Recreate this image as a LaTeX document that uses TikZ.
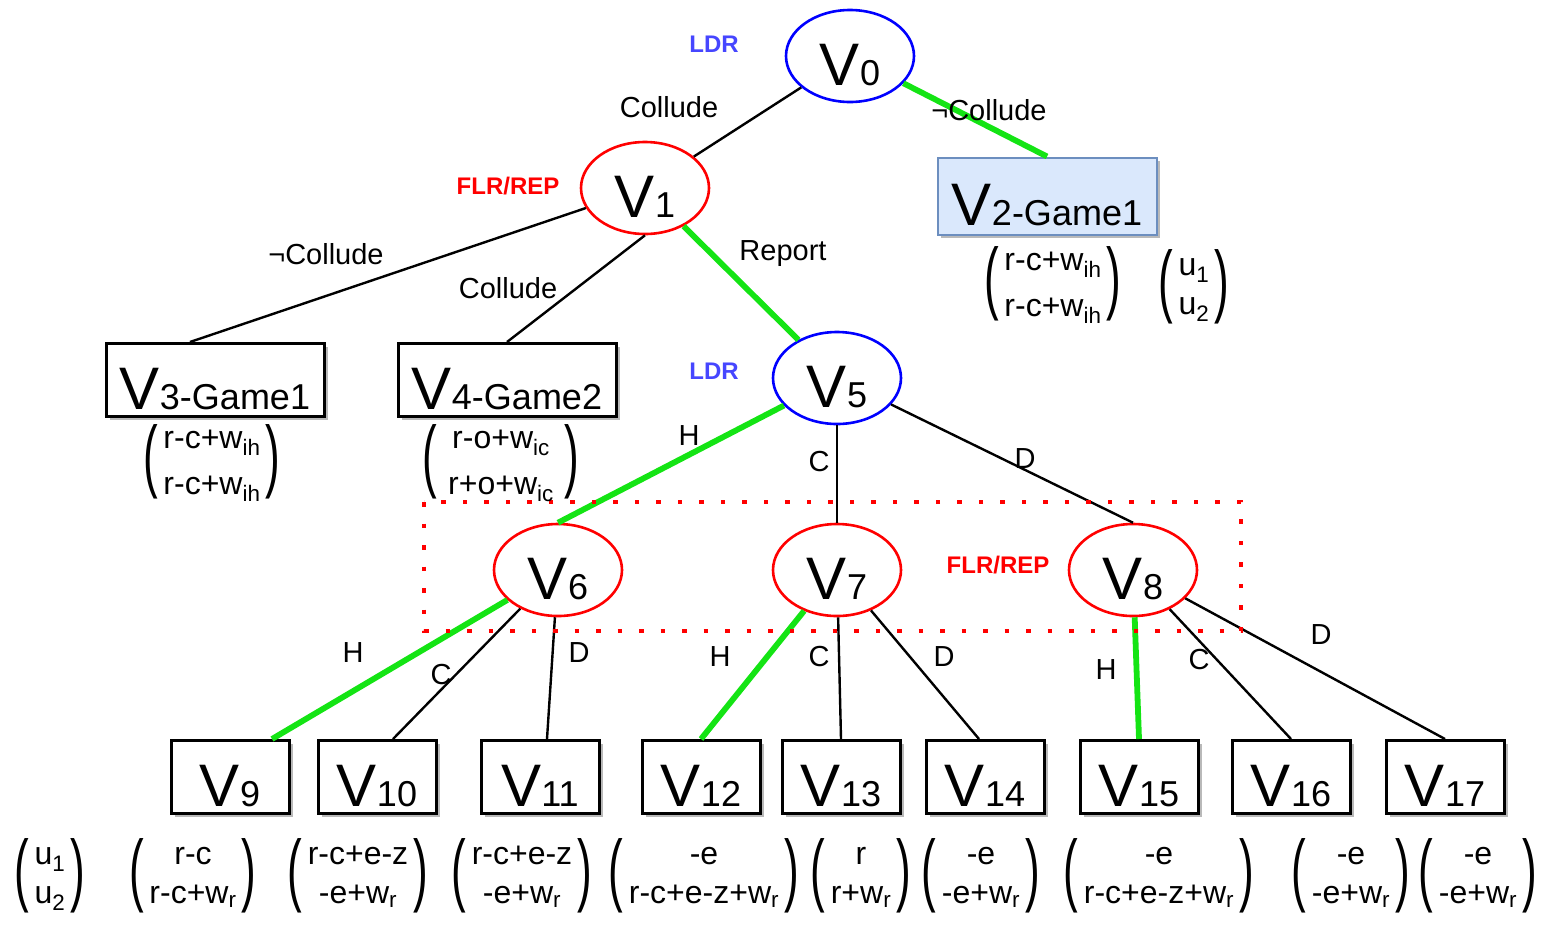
\documentclass[tikz,border=0pt]{standalone}
\usepackage{graphicx}
\usepackage{fontspec}
\setmainfont{Liberation Sans}
\usetikzlibrary{shapes.geometric,shadows}

\definecolor{ldrblue}{RGB}{0,0,255}
\definecolor{ldrtext}{RGB}{70,70,255}
\definecolor{flrred}{RGB}{255,0,0}
\definecolor{pathgreen}{RGB}{20,228,20}
\definecolor{gamefill}{RGB}{218,232,252}
\definecolor{gameline}{RGB}{108,142,191}

\newcommand{\vn}[1]{{\fontsize{60}{60}\selectfont V}{\fontsize{36}{36}\selectfont #1}}
\newcommand{\bigpar}[1]{\scalebox{0.55}[1]{\fontsize{80}{80}\selectfont #1}}
\newcommand{\pay}[2]{$\vcenter{\hbox{\bigpar(}}\vcenter{\hbox{\begin{tabular}{@{\,}c@{\,}}#1\\#2\end{tabular}}}\vcenter{\hbox{\bigpar)}}$}
\newcommand{\wsub}[1]{w\textsubscript{#1}}

\tikzset{
  vnode/.style={inner sep=0, text height=58pt, text depth=0pt},
  ldrnode/.style={vnode, ellipse, draw=ldrblue, line width=2.6pt, minimum width=128pt, minimum height=92pt},
  flrnode/.style={ldrnode, draw=flrred},
  leafbox/.style={vnode, draw, line width=3pt, fill=white, minimum width=118pt, minimum height=73pt,
    drop shadow={shadow xshift=3.5pt, shadow yshift=-3.5pt, opacity=0.5, fill=black!55}},
  gamebox/.style={leafbox, minimum width=218pt},
  plain/.style={line width=2.4pt},
  chosen/.style={line width=5.8pt, draw=pathgreen},
  lbl/.style={font=\fontsize{29}{29}\selectfont},
  role/.style={font=\bfseries\fontsize{24}{24}\selectfont},
  payoff/.style={inner sep=0, font=\fontsize{32}{39}\selectfont},
  payofftall/.style={payoff, font=\fontsize{32}{46}\selectfont},
  turnbox/.style={draw=flrred, line width=4.5pt, dash pattern=on 4.5pt off 17pt},
}

\begin{document}
\begin{tikzpicture}[x=1pt, y=-1pt]
    \useasboundingbox (0,0) rectangle (1549,927);

    % decision nodes
    \node[ldrnode] (V0) at (850,56) {\vn{0}};
    \node[flrnode] (V1) at (645,188) {\vn{1}};
    \node[gamebox, fill=gamefill, draw=gameline, line width=2pt, minimum width=219pt, minimum height=77pt] (V2) at (1047,196) {\vn{2-Game1}};
    \node[gamebox] (V3) at (215,380) {\vn{3-Game1}};
    \node[gamebox] (V4) at (507,380) {\vn{4-Game2}};
    \node[ldrnode] (V5) at (837,378) {\vn{5}};
    \node[flrnode] (V6) at (558,570) {\vn{6}};
    \node[flrnode] (V7) at (837,570) {\vn{7}};
    \node[flrnode] (V8) at (1133,570) {\vn{8}};
    \foreach \i/\x in {9/230,10/377,11/540,12/701,13/841,14/985,15/1139,16/1291,17/1445}
        \node[leafbox] (V\i) at (\x,777) {\vn{\i}};

    % roles
    \node[role, text=ldrtext] (r0) at (714,44) {LDR};
    \node[role, text=flrred] (r1) at (508,186) {FLR/REP};
    \node[role, text=ldrtext] (r5) at (714,371) {LDR};
    \node[role, text=flrred] (r8) at (998,565) {FLR/REP};

    % moves
    \draw[plain] (V0) -- (V1);
    \draw[chosen] (V0) -- (V2.north);
    \draw[plain] (V1) -- ([xshift=-25pt]V3.north);
    \draw[plain] (V1.south) -- (V4.north);
    \draw[chosen] (V1) -- (V5);
    \draw[chosen] (V5) -- (V6.north);
    \draw[plain] (V5) -- (V7);
    \draw[plain] (V5) -- (V8.north);
    \draw[chosen] (V6) -- ([xshift=42pt]V9.north);
    \draw[plain] (V6) -- ([xshift=16pt]V10.north);
    \draw[plain] (V6) -- ([xshift=7pt]V11.north);
    \draw[chosen] (V7) -- (V12.north);
    \draw[plain] (V7) -- (V13.north);
    \draw[plain] (V7) -- ([xshift=-6pt]V14.north);
    \draw[chosen] (V8) -- (V15.north);
    \draw[plain] (V8) -- (V16.north);
    \draw[plain] (V8) -- (V17.north);

    \draw[turnbox] (424,502) rectangle (1241,631);

    % move labels
    \node[lbl] (c01) at (669,107) {Collude};
    \node[lbl] (n02) at (989,110) {¬Collude};
    \node[lbl] (n13) at (326,254) {¬Collude};
    \node[lbl] (c14) at (508,288) {Collude};
    \node[lbl] (rp15) at (783,254) {Report};
    \node[lbl] (h56) at (689,436) {H};
    \node[lbl] (c57) at (819,462) {C};
    \node[lbl] (d58) at (1025,459) {D};
    \node[lbl] (h69) at (353,653) {H};
    \node[lbl] (c610) at (441,675) {C};
    \node[lbl] (d611) at (579,653) {D};
    \node[lbl] (h712) at (720,657) {H};
    \node[lbl] (c713) at (819,657) {C};
    \node[lbl] (d714) at (944,657) {D};
    \node[lbl] (h815) at (1106,670) {H};
    \node[lbl] (c816) at (1199,660) {C};
    \node[lbl] (d817) at (1321,635) {D};

    % payoffs
    \node[payofftall] (p2) at (1053,284) {\pay{r-c+\wsub{ih}}{r-c+\wsub{ih}}};
    \node[payoff] (u2) at (1194,287) {\pay{u\textsubscript{1}}{u\textsubscript{2}}};
    \node[payofftall] (p3) at (212,462) {\pay{r-c+\wsub{ih}}{r-c+\wsub{ih}}};
    \node[payofftall] (p4) at (501,462) {\pay{\,r-o+\wsub{ic}\,}{\,r+o+\wsub{ic}\,}};
    \node[payoff] (u9) at (50,876) {\pay{u\textsubscript{1}}{u\textsubscript{2}}};
    \foreach \i/\x/\up/\dn in {9/193/r-c/r-c+\wsub{r}, 10/358/r-c+e-z/-e+\wsub{r},
        11/522/r-c+e-z/-e+\wsub{r}, 12/704/-e/r-c+e-z+\wsub{r}, 13/861/r/r+\wsub{r},
        14/981/-e/-e+\wsub{r}, 15/1159/-e/r-c+e-z+\wsub{r}, 16/1351/-e/-e+\wsub{r},
        17/1478/-e/-e+\wsub{r}}
        \node[payoff] (p\i) at (\x,876) {\pay{\up}{\dn}};
\end{tikzpicture}
\end{document}
